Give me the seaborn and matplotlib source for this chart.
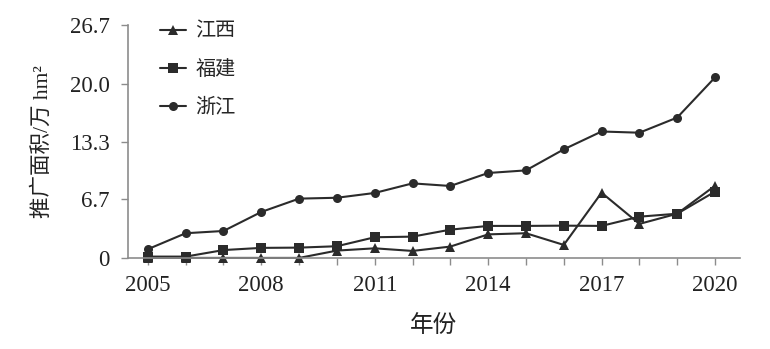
import matplotlib
matplotlib.use("Agg")
import matplotlib.pyplot as plt
import seaborn as sns
import pandas as pd

years = list(range(2005, 2021))
jiangxi = [0, 0, 0, 0, 0, 0.84, 1.1, 0.8, 1.3, 2.7, 2.83, 1.49, 7.48, 3.9, 5.07, 8.28]
fujian = [0.15, 0.15, 0.9, 1.15, 1.18, 1.34, 2.37, 2.44, 3.24, 3.67, 3.67, 3.7, 3.67, 4.73, 5.07, 7.6]
zhejiang = [1.0, 2.83, 3.09, 5.27, 6.8, 6.9, 7.45, 8.55, 8.25, 9.74, 10.04, 12.45, 14.5, 14.36, 16.1, 20.7]
series_names = ["江西", "福建", "浙江"]
yticks = [0, 6.7, 13.3, 20.0, 26.7]
ytick_labels = ["0", "6.7", "13.3", "20.0", "26.7"]
xticks_labeled = [2005, 2008, 2011, 2014, 2017, 2020]

df = pd.concat([
    pd.DataFrame({"年份": years, "值": v, "省份": n})
    for n, v in zip(series_names, [jiangxi, fujian, zhejiang])
])

sns.set_style("white")
plt.rcParams["font.family"] = ["Liberation Serif", "Noto Sans CJK SC", "DejaVu Sans"]

fig = plt.figure(figsize=(7.7, 3.49), dpi=100)
ax = fig.add_axes([0.166, 0.261, 0.795, 0.667])

sns.lineplot(data=df, x="年份", y="值", hue="省份", style="省份",
             hue_order=series_names, style_order=series_names,
             palette={n: "#2b2b2b" for n in series_names},
             markers={"江西": "^", "福建": "s", "浙江": "o"},
             dashes=False, markersize=6.5, markeredgewidth=0,
             linewidth=1.5, ax=ax, clip_on=False, legend=True)

ax.set_xlim(2004.47, 2020.66)
ax.set_ylim(0, 26.7)
ax.set_xticks(years)
ax.set_xticklabels([str(y) if y in xticks_labeled else "" for y in years])
ax.set_yticks(yticks)
ax.set_yticklabels(ytick_labels)
for s in ["top", "right"]:
    ax.spines[s].set_visible(False)
for s in ["left", "bottom"]:
    ax.spines[s].set_color("#8c8c8c")
    ax.spines[s].set_linewidth(1.2)
ax.tick_params(axis="both", which="both", direction="out", length=5, width=1,
               color="#8c8c8c", labelsize=16.5, labelcolor="#222222",
               bottom=True, left=True)
ax.tick_params(axis="x", pad=7)
ax.tick_params(axis="y", pad=8)
ax.set_xlabel("年份", fontsize=17, color="#222222", labelpad=14)
ax.set_ylabel("推广面积/万 hm²", fontsize=15.5, color="#222222", labelpad=12)

handles, labels = ax.get_legend_handles_labels()
leg = ax.legend(handles, labels, loc="upper left", bbox_to_anchor=(0.208, 0.935),
                bbox_transform=fig.transFigure, frameon=False, fontsize=14.5,
                handlelength=1.3, handletextpad=0.45, labelspacing=0.95,
                borderaxespad=0, borderpad=0)

fig.savefig("out.png", dpi=100)
